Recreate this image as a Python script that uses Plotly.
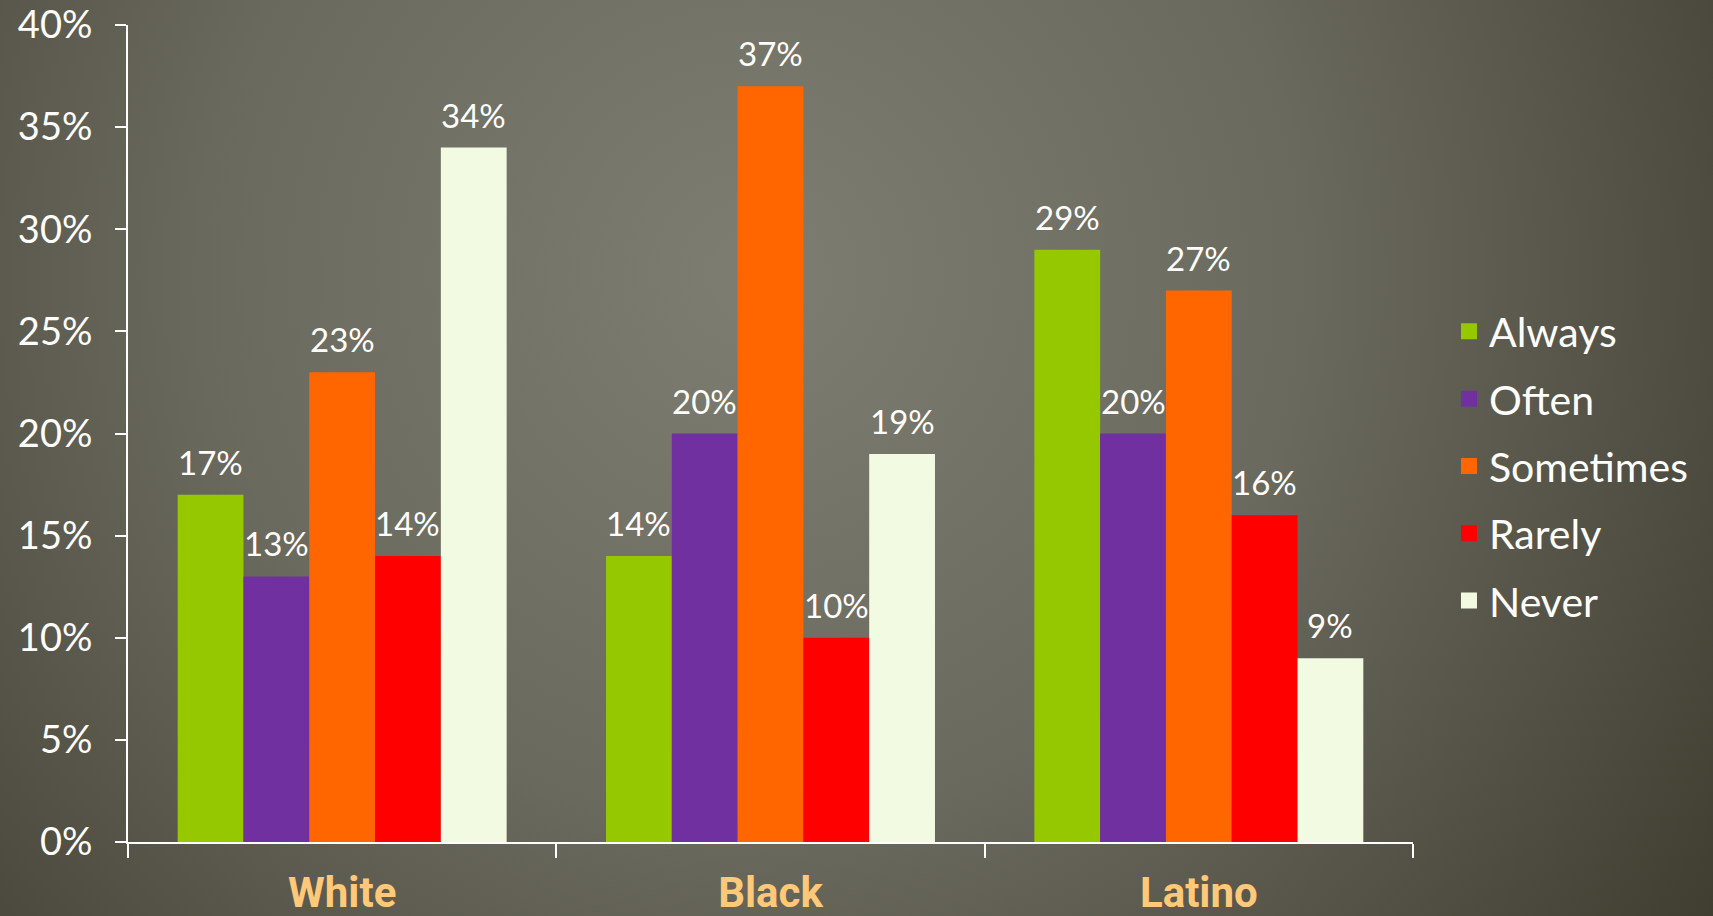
import base64
import plotly.graph_objects as go

# ---- data ----
groups = ["White", "Black", "Latino"]
series_names = ["Always", "Often", "Sometimes", "Rarely", "Never"]
always = [17, 14, 29]
often = [13, 20, 20]
sometimes = [23, 37, 27]
rarely = [14, 10, 16]
never = [34, 19, 9]
y_ticks = [0, 5, 10, 15, 20, 25, 30, 35, 40]
y_tick_labels = ["0%", "5%", "10%", "15%", "20%", "25%", "30%", "35%", "40%"]

series_values = [always, often, sometimes, rarely, never]
colors = ["#96C800", "#7030A0", "#FF6600", "#FF0000", "#F2FBE2"]

W, H = 1713, 916
ML, MR, MT, MB = 128, 300, 25, 74
PW, PH = W - ML - MR, H - MT - MB
BARGAP = 0.232

FONT = "Lato"

fig = go.Figure()
for name, vals, col in zip(series_names, series_values, colors):
    fig.add_trace(go.Bar(
        name=name, x=groups, y=vals, marker=dict(color=col, line=dict(width=0)),
        legendgroup=name, showlegend=False,
    ))
    # legend entry with a larger square swatch
    fig.add_trace(go.Scatter(
        name=name, x=[None], y=[None], mode="markers",
        marker=dict(symbol="square", size=16, color=col),
        legendgroup=name, showlegend=True, hoverinfo="skip",
    ))

# data labels above bars
n = len(series_names)
bw = (1 - BARGAP) / n
for j, vals in enumerate(series_values):
    for i, v in enumerate(vals):
        fig.add_annotation(
            x=i + (j - (n - 1) / 2) * bw, y=v, xref="x", yref="y",
            text=f"{v}%", showarrow=False, yanchor="bottom", yshift=11,
            font=dict(family=FONT, size=33, color="white"),
        )

# radial gradient background
svg = f'''<svg xmlns="http://www.w3.org/2000/svg" width="{W}" height="{H}" viewBox="0 0 {W} {H}">
<defs><radialGradient id="g" cx="{0.44*W}" cy="{0.30*H}" r="{0.72*W}" gradientUnits="userSpaceOnUse">
<stop offset="0" stop-color="#7E7D71"/><stop offset="0.45" stop-color="#6A695D"/><stop offset="1" stop-color="#3A382B"/></radialGradient></defs>
<rect width="{W}" height="{H}" fill="url(#g)"/></svg>'''
src = "data:image/svg+xml;base64," + base64.b64encode(svg.encode()).decode()
fig.add_layout_image(dict(
    source=src, xref="paper", yref="paper",
    x=-ML / PW, y=1 + MT / PH, sizex=W / PW, sizey=H / PH,
    xanchor="left", yanchor="top", sizing="stretch", layer="below",
))

fig.update_layout(
    width=W, height=H,
    margin=dict(l=ML, r=MR, t=MT, b=MB, pad=0, autoexpand=False),
    paper_bgcolor="#4A493D", plot_bgcolor="rgba(0,0,0,0)",
    barmode="group", bargap=BARGAP, bargroupgap=0,
    showlegend=True,
    legend=dict(
        x=1.028, y=0.46, xanchor="left", yanchor="middle",
        font=dict(family=FONT, size=41, color="white"),
        bgcolor="rgba(0,0,0,0)", tracegroupgap=11, itemwidth=30,
    ),
    xaxis=dict(
        automargin=False,
        showgrid=False, showline=True, linecolor="white", linewidth=2,
        ticks="outside", tickson="boundaries", ticklen=14, tickcolor="white", tickwidth=2,
        tickfont=dict(family="Roboto", size=42, color="#FFC979", weight="bold"),
        ticklabelstandoff=13,
    ),
    yaxis=dict(
        automargin=False,
        range=[0, 40], tickvals=y_ticks, ticktext=y_tick_labels,
        showgrid=False, zeroline=False, showline=True, linecolor="white", linewidth=2,
        ticks="outside", ticklen=11, tickcolor="white", tickwidth=2,
        tickfont=dict(family=FONT, size=38, color="white"),
        ticklabelstandoff=15,
    ),
)

fig.write_html(
    "out.html",
    config={"displayModeBar": False},
    post_script="document.body.style.margin='0';document.body.style.overflow='hidden';",
)
